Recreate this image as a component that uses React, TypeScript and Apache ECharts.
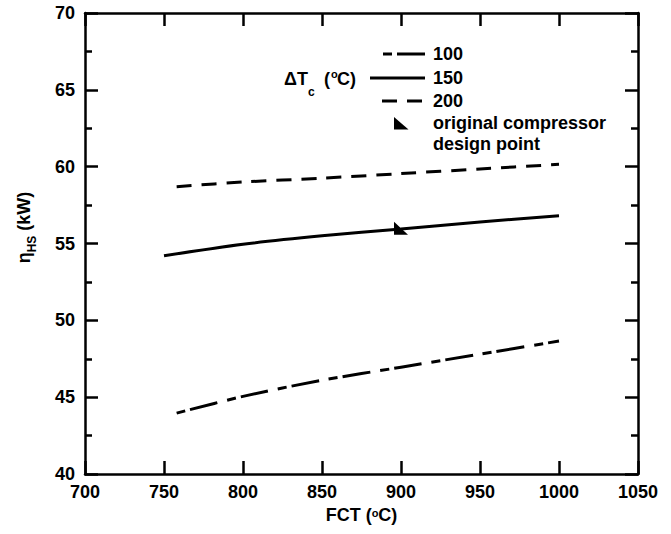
import React, { useEffect, useRef } from "react";
import * as echarts from "echarts";

const fct100 = [758, 800, 850, 900, 950, 1000];
const eta100 = [43.96, 45.05, 46.1, 46.95, 47.8, 48.65];
const fct150 = [750, 800, 850, 900, 950, 1000];
const eta150 = [54.2, 54.95, 55.5, 55.95, 56.4, 56.8];
const fct200 = [758, 800, 850, 900, 950, 1000];
const eta200 = [58.7, 59.0, 59.25, 59.55, 59.85, 60.15];
const designPoint = [900, 56];
const legendLabels = ["100", "150", "200"];

const FONT = '"Liberation Sans", Arial, sans-serif';
const BOLD18 = `bold 18px ${FONT}`;

const pairs = (xs: number[], ys: number[]) => xs.map((x, i) => [x, ys[i]]);

export default function App() {
  const ref = useRef<HTMLDivElement>(null);
  useEffect(() => {
    if (!ref.current) return;
    const chart = echarts.init(ref.current, undefined, { renderer: "svg" });
    const tri = "path://M0 0 L0 12 L12 12 Z";
    const axisLine = { show: true, lineStyle: { color: "#000", width: 2.5 } };
    const tick = { show: true, inside: true, length: 13, lineStyle: { color: "#000", width: 2.5 } };
    const minor = { show: true, splitNumber: 2, length: 7, lineStyle: { color: "#000", width: 2.5 } };
    const label = { color: "#000", fontSize: 18, fontWeight: "bold", fontFamily: FONT };
    chart.setOption({
      animation: false,
      backgroundColor: "#fff",
      grid: { left: 85, right: 33, top: 13, bottom: 60 },
      xAxis: [
        {
          type: "value", min: 700, max: 1050, interval: 50, position: "bottom",
          axisLine, axisTick: tick, splitLine: { show: false },
          axisLabel: { ...label, margin: 9, formatter: (v: number) => String(v) },
          name: "{a|FCT (}{sup|o}{a|C)}",
          nameLocation: "middle", nameGap: 32,
          nameTextStyle: {
            rich: {
              a: { fontSize: 18, fontWeight: "bold", fontFamily: FONT, color: "#000", lineHeight: 22, verticalAlign: "top" },
              sup: { fontSize: 11, fontWeight: "bold", fontFamily: FONT, color: "#000", lineHeight: 11, verticalAlign: "top", padding: [1, 0, 0, 0] },
            },
          },
        },
        {
          type: "value", min: 700, max: 1050, interval: 50, position: "top",
          axisLine, axisTick: tick, axisLabel: { show: false }, splitLine: { show: false },
        },
      ],
      yAxis: [
        {
          type: "value", min: 40, max: 70, interval: 5, position: "left",
          axisLine, axisTick: tick, minorTick: minor, splitLine: { show: false },
          axisLabel: { ...label, margin: 10 },
          name: "{a|η}{sub|HS}{a| (kW)}",
          nameLocation: "middle", nameGap: 48, nameRotate: 90,
          nameTextStyle: {
            padding: [0, 0, 0, 32],
            rich: {
              a: { fontSize: 18, fontWeight: "bold", fontFamily: FONT, color: "#000", lineHeight: 22, verticalAlign: "top" },
              sub: { fontSize: 12, fontWeight: "bold", fontFamily: FONT, color: "#000", lineHeight: 12, verticalAlign: "top", padding: [11, 0, 0, 0] },
            },
          },
        },
        {
          type: "value", min: 40, max: 70, interval: 5, position: "right",
          axisLine, axisTick: tick, minorTick: minor, axisLabel: { show: false }, splitLine: { show: false },
        },
      ],
      series: [
        {
          name: "100", type: "line", data: pairs(fct100, eta100), smooth: 0.3, symbol: "none",
          lineStyle: { color: "#000", width: 3, type: [9, 5, 28, 10], cap: "butt" },
        },
        {
          name: "150", type: "line", data: pairs(fct150, eta150), smooth: 0.3, symbol: "none",
          lineStyle: { color: "#000", width: 3, type: "solid" },
        },
        {
          name: "200", type: "line", data: pairs(fct200, eta200), smooth: 0.3, symbol: "none",
          lineStyle: { color: "#000", width: 3, type: [15, 10], cap: "butt" },
        },
        {
          name: "original compressor design point", type: "scatter", data: [designPoint], z: 5,
          symbol: tri, symbolSize: [14, 13], itemStyle: { color: "#000", opacity: 1 },
        },
      ],
      graphic: [
        { type: "line", shape: { x1: 383, y1: 54, x2: 425, y2: 54 }, style: { stroke: "#000", lineWidth: 3, lineDash: [9, 5, 28, 10] } },
        { type: "line", shape: { x1: 370, y1: 78, x2: 425, y2: 78 }, style: { stroke: "#000", lineWidth: 3 } },
        { type: "line", shape: { x1: 382, y1: 101, x2: 425, y2: 101 }, style: { stroke: "#000", lineWidth: 3, lineDash: [15, 10] } },
        { type: "text", x: 433, y: 54, style: { text: legendLabels[0], font: BOLD18, fill: "#000", align: "left", verticalAlign: "middle" } },
        { type: "text", x: 433, y: 78, style: { text: legendLabels[1], font: BOLD18, fill: "#000", align: "left", verticalAlign: "middle" } },
        { type: "text", x: 433, y: 101, style: { text: legendLabels[2], font: BOLD18, fill: "#000", align: "left", verticalAlign: "middle" } },
        { type: "text", x: 308, y: 79, style: { text: "ΔT", font: BOLD18, fill: "#000", align: "right", verticalAlign: "middle" } },
        { type: "text", x: 308, y: 92, style: { text: "c", font: `bold 12px ${FONT}`, fill: "#000", align: "left", verticalAlign: "middle" } },
        { type: "text", x: 324, y: 79, style: { text: "(", font: BOLD18, fill: "#000", align: "left", verticalAlign: "middle" } },
        { type: "text", x: 331, y: 74, style: { text: "o", font: `bold 11px ${FONT}`, fill: "#000", align: "left", verticalAlign: "middle" } },
        { type: "text", x: 337, y: 79, style: { text: "C)", font: BOLD18, fill: "#000", align: "left", verticalAlign: "middle" } },
        { type: "polygon", shape: { points: [[394, 117], [394, 129.5], [408.5, 129.5]] }, style: { fill: "#000" } },
        { type: "text", x: 433, y: 123, style: { text: "original compressor", font: BOLD18, fill: "#000", align: "left", verticalAlign: "middle" } },
        { type: "text", x: 433, y: 144, style: { text: "design point", font: BOLD18, fill: "#000", align: "left", verticalAlign: "middle" } },
      ],
    });
    return () => chart.dispose();
  }, []);
  return <div ref={ref} style={{ position: "fixed", left: 0, top: 0, width: 671, height: 534 }} />;
}
